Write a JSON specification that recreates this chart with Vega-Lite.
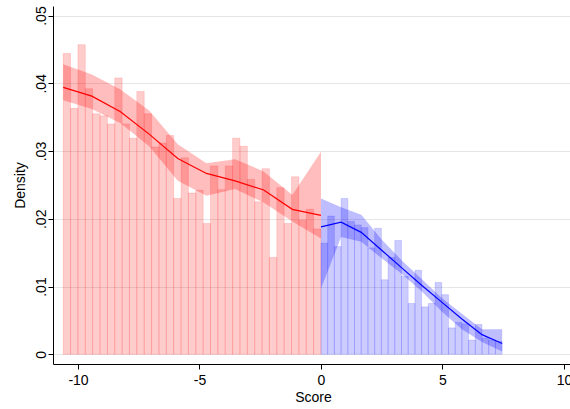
{
  "$schema": "https://vega.github.io/schema/vega-lite/v6.json",
  "width": 517,
  "height": 358,
  "autosize": {"type": "none"},
  "padding": {"left": 53, "top": 6, "right": 0, "bottom": 45},
  "background": "white",
  "config": {
    "view": {"stroke": null},
    "font": "Liberation Sans",
    "axis": {
      "domainColor": "black",
      "domainWidth": 1,
      "tickColor": "black",
      "tickSize": 5,
      "tickWidth": 1,
      "labelFont": "Liberation Sans",
      "labelFontSize": 14,
      "labelColor": "black",
      "titleFont": "Liberation Sans",
      "titleFontSize": 14,
      "titleFontWeight": "normal",
      "titleColor": "black",
      "gridColor": "#e6e6e6",
      "gridWidth": 1
    }
  },
  "datasets": {
    "bins": [
      {"side": "left", "lo": -10.610, "hi": -10.307, "density": 0.0444},
      {"side": "left", "lo": -10.307, "hi": -10.004, "density": 0.0363},
      {"side": "left", "lo": -10.004, "hi": -9.701, "density": 0.0457},
      {"side": "left", "lo": -9.701, "hi": -9.397, "density": 0.0392},
      {"side": "left", "lo": -9.397, "hi": -9.094, "density": 0.0355},
      {"side": "left", "lo": -9.094, "hi": -8.791, "density": 0.0352},
      {"side": "left", "lo": -8.791, "hi": -8.488, "density": 0.0340},
      {"side": "left", "lo": -8.488, "hi": -8.185, "density": 0.0408},
      {"side": "left", "lo": -8.185, "hi": -7.882, "density": 0.0340},
      {"side": "left", "lo": -7.882, "hi": -7.579, "density": 0.0319},
      {"side": "left", "lo": -7.579, "hi": -7.275, "density": 0.0388},
      {"side": "left", "lo": -7.275, "hi": -6.972, "density": 0.0355},
      {"side": "left", "lo": -6.972, "hi": -6.669, "density": 0.0306},
      {"side": "left", "lo": -6.669, "hi": -6.366, "density": 0.0312},
      {"side": "left", "lo": -6.366, "hi": -6.063, "density": 0.0323},
      {"side": "left", "lo": -6.063, "hi": -5.760, "density": 0.0230},
      {"side": "left", "lo": -5.760, "hi": -5.457, "density": 0.0290},
      {"side": "left", "lo": -5.457, "hi": -5.153, "density": 0.0238},
      {"side": "left", "lo": -5.153, "hi": -4.850, "density": 0.0242},
      {"side": "left", "lo": -4.850, "hi": -4.547, "density": 0.0193},
      {"side": "left", "lo": -4.547, "hi": -4.244, "density": 0.0278},
      {"side": "left", "lo": -4.244, "hi": -3.941, "density": 0.0243},
      {"side": "left", "lo": -3.941, "hi": -3.638, "density": 0.0278},
      {"side": "left", "lo": -3.638, "hi": -3.335, "density": 0.0319},
      {"side": "left", "lo": -3.335, "hi": -3.031, "density": 0.0307},
      {"side": "left", "lo": -3.031, "hi": -2.728, "density": 0.0258},
      {"side": "left", "lo": -2.728, "hi": -2.425, "density": 0.0225},
      {"side": "left", "lo": -2.425, "hi": -2.122, "density": 0.0274},
      {"side": "left", "lo": -2.122, "hi": -1.819, "density": 0.0143},
      {"side": "left", "lo": -1.819, "hi": -1.516, "density": 0.0246},
      {"side": "left", "lo": -1.516, "hi": -1.213, "density": 0.0193},
      {"side": "left", "lo": -1.213, "hi": -0.909, "density": 0.0262},
      {"side": "left", "lo": -0.909, "hi": -0.606, "density": 0.0198},
      {"side": "left", "lo": -0.606, "hi": -0.303, "density": 0.0214},
      {"side": "left", "lo": -0.303, "hi": 0.000, "density": 0.0185},
      {"side": "right", "lo": 0.000, "hi": 0.276, "density": 0.0164},
      {"side": "right", "lo": 0.276, "hi": 0.552, "density": 0.0204},
      {"side": "right", "lo": 0.552, "hi": 0.829, "density": 0.0159},
      {"side": "right", "lo": 0.829, "hi": 1.105, "density": 0.0230},
      {"side": "right", "lo": 1.105, "hi": 1.381, "density": 0.0196},
      {"side": "right", "lo": 1.381, "hi": 1.657, "density": 0.0191},
      {"side": "right", "lo": 1.657, "hi": 1.933, "density": 0.0187},
      {"side": "right", "lo": 1.933, "hi": 2.210, "density": 0.0157},
      {"side": "right", "lo": 2.210, "hi": 2.486, "density": 0.0186},
      {"side": "right", "lo": 2.486, "hi": 2.762, "density": 0.0110},
      {"side": "right", "lo": 2.762, "hi": 3.038, "density": 0.0143},
      {"side": "right", "lo": 3.038, "hi": 3.314, "density": 0.0168},
      {"side": "right", "lo": 3.314, "hi": 3.590, "density": 0.0115},
      {"side": "right", "lo": 3.590, "hi": 3.867, "density": 0.0075},
      {"side": "right", "lo": 3.867, "hi": 4.143, "density": 0.0124},
      {"side": "right", "lo": 4.143, "hi": 4.419, "density": 0.0070},
      {"side": "right", "lo": 4.419, "hi": 4.695, "density": 0.0075},
      {"side": "right", "lo": 4.695, "hi": 4.971, "density": 0.0106},
      {"side": "right", "lo": 4.971, "hi": 5.248, "density": 0.0088},
      {"side": "right", "lo": 5.248, "hi": 5.524, "density": 0.0039},
      {"side": "right", "lo": 5.524, "hi": 5.800, "density": 0.0047},
      {"side": "right", "lo": 5.800, "hi": 6.076, "density": 0.0045},
      {"side": "right", "lo": 6.076, "hi": 6.352, "density": 0.0021},
      {"side": "right", "lo": 6.352, "hi": 6.629, "density": 0.0044},
      {"side": "right", "lo": 6.629, "hi": 6.905, "density": 0.0024},
      {"side": "right", "lo": 6.905, "hi": 7.181, "density": 0.0021},
      {"side": "right", "lo": 7.181, "hi": 7.457, "density": 0.0019}
    ],
    "fit": [
      {"side": "left", "score": -10.610, "fit": 0.0394, "ci_lo": 0.0375, "ci_hi": 0.0428},
      {"side": "left", "score": -9.431, "fit": 0.0381, "ci_lo": 0.0362, "ci_hi": 0.0413},
      {"side": "left", "score": -8.252, "fit": 0.0358, "ci_lo": 0.0341, "ci_hi": 0.0391},
      {"side": "left", "score": -7.073, "fit": 0.0325, "ci_lo": 0.0307, "ci_hi": 0.0360},
      {"side": "left", "score": -5.894, "fit": 0.0289, "ci_lo": 0.0256, "ci_hi": 0.0310},
      {"side": "left", "score": -4.716, "fit": 0.0267, "ci_lo": 0.0234, "ci_hi": 0.0282},
      {"side": "left", "score": -3.537, "fit": 0.0256, "ci_lo": 0.0244, "ci_hi": 0.0288},
      {"side": "left", "score": -2.358, "fit": 0.02425, "ci_lo": 0.0224, "ci_hi": 0.0270},
      {"side": "left", "score": -1.179, "fit": 0.0214, "ci_lo": 0.0196, "ci_hi": 0.0235},
      {"side": "left", "score": 0.000, "fit": 0.0205, "ci_lo": 0.0171, "ci_hi": 0.0299},
      {"side": "right", "score": 0.000, "fit": 0.0188, "ci_lo": 0.0097, "ci_hi": 0.0230},
      {"side": "right", "score": 0.829, "fit": 0.0195, "ci_lo": 0.0173, "ci_hi": 0.0217},
      {"side": "right", "score": 1.657, "fit": 0.0180, "ci_lo": 0.0166, "ci_hi": 0.0206},
      {"side": "right", "score": 2.486, "fit": 0.0154, "ci_lo": 0.0142, "ci_hi": 0.0170},
      {"side": "right", "score": 3.314, "fit": 0.0128, "ci_lo": 0.0119, "ci_hi": 0.0139},
      {"side": "right", "score": 4.143, "fit": 0.0102, "ci_lo": 0.0093, "ci_hi": 0.0111},
      {"side": "right", "score": 4.971, "fit": 0.0077, "ci_lo": 0.0063, "ci_hi": 0.0083},
      {"side": "right", "score": 5.800, "fit": 0.0052, "ci_lo": 0.0037, "ci_hi": 0.0060},
      {"side": "right", "score": 6.629, "fit": 0.0029, "ci_lo": 0.0018, "ci_hi": 0.0037},
      {"side": "right", "score": 7.457, "fit": 0.0016, "ci_lo": 0.0004, "ci_hi": 0.0037}
    ]
  },
  "layer": [
    {
      "data": {"name": "bins"},
      "mark": {"type": "rect", "fillOpacity": 0.2, "strokeOpacity": 0.13, "strokeWidth": 1},
      "encoding": {
        "x": {
          "field": "lo", "type": "quantitative",
          "scale": {"domain": [-11.03, 10.25], "nice": false, "zero": false},
          "axis": {
            "values": [-10, -5, 0, 5, 10],
            "grid": false,
            "labelExpr": "'' + datum.value",
            "labelPadding": 4,
            "labelAngle": 0,
            "labelFlush": false,
            "labelOverlap": false,
            "title": "Score",
            "titleX": 260,
            "titleY": 33,
            "titleAlign": "center",
            "titleBaseline": "middle"
          }
        },
        "x2": {"field": "hi"},
        "y": {
          "field": "density", "type": "quantitative",
          "scale": {"domain": [-0.001432, 0.05141], "nice": false, "zero": false},
          "axis": {
            "values": [0, 0.01, 0.02, 0.03, 0.04, 0.05],
            "grid": true,
            "labelExpr": "datum.value == 0 ? '0' : replace(format(datum.value, '.2f'), '0.', '.')",
            "labelAngle": -90,
            "labelAlign": "center",
            "labelBaseline": "alphabetic",
            "labelPadding": 3,
            "labelFlush": false,
            "labelOverlap": false,
            "title": "Density",
            "titleAngle": -90,
            "titleX": -33,
            "titleY": 179,
            "titleAlign": "center",
            "titleBaseline": "middle"
          }
        },
        "y2": {"datum": 0},
        "color": {"field": "side", "type": "nominal", "scale": {"domain": ["left", "right"], "range": ["red", "blue"]}, "legend": null},
        "stroke": {"field": "side", "type": "nominal", "scale": {"domain": ["left", "right"], "range": ["red", "blue"]}, "legend": null}
      }
    },
    {
      "data": {"name": "fit"},
      "mark": {"type": "area", "opacity": 0.26},
      "encoding": {
        "x": {"field": "score", "type": "quantitative"},
        "y": {"field": "ci_lo", "type": "quantitative"},
        "y2": {"field": "ci_hi"},
        "color": {"field": "side", "type": "nominal", "legend": null}
      }
    },
    {
      "data": {"name": "fit"},
      "mark": {"type": "line", "strokeWidth": 1.2},
      "encoding": {
        "x": {"field": "score", "type": "quantitative"},
        "y": {"field": "fit", "type": "quantitative"},
        "color": {"field": "side", "type": "nominal", "legend": null}
      }
    }
  ]
}
